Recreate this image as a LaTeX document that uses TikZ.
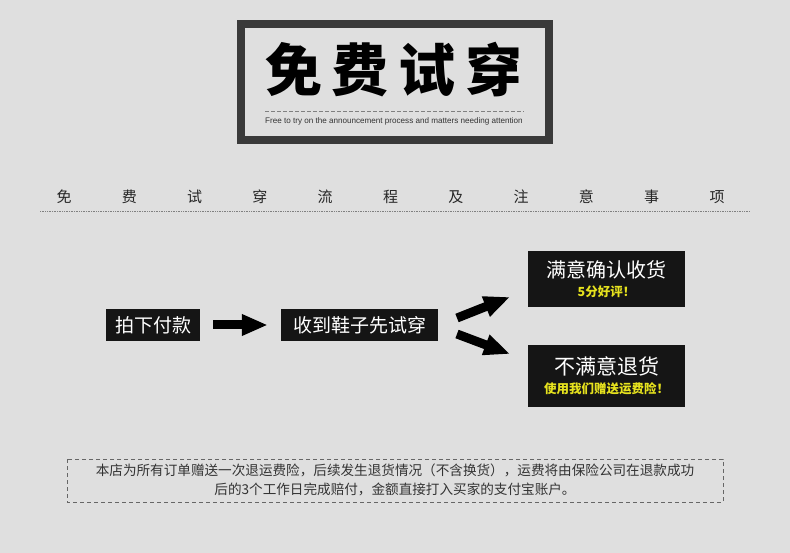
\documentclass[tikz,border=0pt]{standalone}
\usepackage{fontspec}
\setmainfont{Liberation Sans}
\newfontfamily\cjk{Noto Sans CJK SC}
\usetikzlibrary{arrows.meta,calc}
\definecolor{paper}{HTML}{DFDFDF}
\definecolor{frame}{HTML}{3A3A3A}
\definecolor{boxblack}{HTML}{151515}
\definecolor{tipyellow}{HTML}{E6E21E}
\definecolor{notegray}{HTML}{333333}
\tikzset{
  stepbox/.style={fill=boxblack, text=white, inner sep=0pt, minimum height=32pt, font=\cjk\fontsize{19}{22}\selectfont},
  resultbox/.style={fill=boxblack, text=white, inner sep=0pt, minimum width=157pt, align=center},
  fat/.style={line width=9pt, -{Triangle[length=26pt,width=20pt]}},
}
\begin{document}
\begin{tikzpicture}[x=1pt,y=-1pt]
\useasboundingbox[fill=paper] (0,0) rectangle (790,553);
% title frame
\draw[frame, line width=8pt] (241,24) rectangle (549,140);
\node (title) at (394,70) {\cjk\bfseries\fontsize{57}{60}\selectfont 免\hspace{10pt}费\hspace{10pt}试\hspace{10pt}穿};
\draw[gray, dashed, dash pattern=on 4pt off 2pt] (265,111) -- (524,111);
\node[text=notegray, font=\fontsize{8.1}{9}\selectfont] (subtitle) at (394,121) {Free to try on the announcement process and matters needing attention};
% heading row
\foreach \c [count=\i from 0] in {免,费,试,穿,流,程,及,注,意,事,项}
  \node[font=\cjk\fontsize{15}{17}\selectfont, text=black!85] (h\i) at (64+65.3*\i,197) {\c};
\draw[gray, densely dotted, line width=0.7pt] (40,211) -- (750,211);
% flow
\node[stepbox, minimum width=94pt] (pay) at (153,325) {拍下付款};
\node[stepbox, minimum width=157pt] (try) at (359.5,325) {收到鞋子先试穿};
\node[resultbox, minimum height=56pt] (keep) at (606.5,279) {{\cjk\fontsize{20}{22}\selectfont 满意确认收货}\\[5pt]{\cjk\bfseries\fontsize{12.5}{15}\selectfont\color{tipyellow}5分好评！}};
\node[resultbox, minimum height=61pt] (back) at (606.5,376) {{\cjk\fontsize{21}{23}\selectfont 不满意退货}\\[6pt]{\cjk\bfseries\fontsize{12.5}{15}\selectfont\color{tipyellow}使用我们赠送运费险！}};
\draw[fat] (pay.east) ++(13,0) -- ($(try.west)+(-13,0)$);
\coordinate (upfrom) at (457,318);
\coordinate (upto) at (510,297);
\coordinate (downfrom) at (457,334);
\coordinate (downto) at (510,354);
\draw[fat] (upfrom) -- (upto);
\draw[fat] (downfrom) -- (downto);
% note
\draw[gray!80!black, dashed, dash pattern=on 4pt off 3pt, line width=0.8pt] (67,459) rectangle (723,502);
\node[text=notegray, font=\cjk\fontsize{13.6}{19}\selectfont, align=center] (note) at (395,480)
  {本店为所有订单赠送一次退运费险，后续发生退货情况（不含换货），运费将由保险公司在退款成功\\后的3个工作日完成赔付，金额直接打入买家的支付宝账户。};
\end{tikzpicture}
\end{document}
